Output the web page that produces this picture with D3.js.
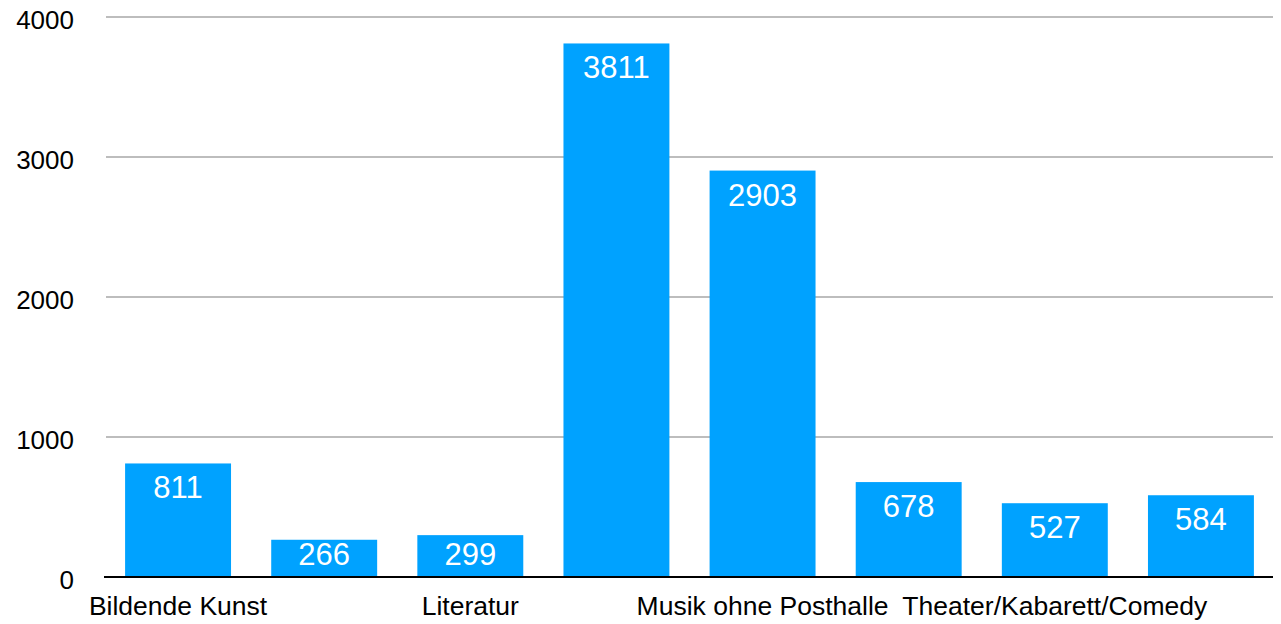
<!DOCTYPE html>
<html lang="de">
<head>
<meta charset="UTF-8">
<title>Kategorien</title>
<script src="https://d3js.org/d3.v7.min.js"></script>
<style>
  body { margin: 0; background: #fff; }
  svg text { font-family: "Liberation Sans", Helvetica, Arial, sans-serif; }
</style>
</head>
<body>
<svg id="chart"></svg>
<script>
// only every other category label is shown in the original chart
const categories = ["Bildende Kunst", "", "Literatur", "", "Musik ohne Posthalle", "", "Theater/Kabarett/Comedy", ""];
const values = [811, 266, 299, 3811, 2903, 678, 527, 584];
const yTicks = [0, 1000, 2000, 3000, 4000];

const width = 1281, height = 624;
const svg = d3.select("#chart").attr("width", width).attr("height", height);

const x = d3.scaleBand()
  .domain(d3.range(values.length))
  .range([105, 1274])
  .paddingInner(0.275)
  .paddingOuter(0.1375);

const y = d3.scaleLinear().domain([0, 4000]).range([577, 17]);

// grid lines
svg.append("g")
  .selectAll("line")
  .data(yTicks.filter(d => d > 0))
  .join("line")
  .attr("x1", 106).attr("x2", 1273)
  .attr("y1", d => y(d)).attr("y2", d => y(d))
  .attr("stroke", "#bdbdbd")
  .attr("stroke-width", 2);

// y tick labels
svg.append("g")
  .selectAll("text")
  .data(yTicks)
  .join("text")
  .attr("x", 74)
  .attr("y", d => y(d) + 12)
  .attr("text-anchor", "end")
  .attr("font-size", 26)
  .attr("fill", "#000")
  .text(d => d);

// bars
svg.append("g")
  .selectAll("rect")
  .data(values)
  .join("rect")
  .attr("x", (d, i) => x(i))
  .attr("y", d => y(d))
  .attr("width", x.bandwidth())
  .attr("height", d => y(0) - y(d))
  .attr("fill", "#00a2ff");

// value labels inside bars (kept above the baseline for short bars)
svg.append("g")
  .selectAll("text")
  .data(values)
  .join("text")
  .attr("x", (d, i) => x(i) + x.bandwidth() / 2)
  .attr("y", d => Math.min(y(d) + 35, y(0) - 12))
  .attr("text-anchor", "middle")
  .attr("font-size", 31)
  .attr("fill", "#fff")
  .text(d => d);

// baseline
svg.append("line")
  .attr("x1", 104).attr("x2", 1273)
  .attr("y1", y(0)).attr("y2", y(0))
  .attr("stroke", "#000")
  .attr("stroke-width", 2);

// category labels
svg.append("g")
  .selectAll("text")
  .data(categories)
  .join("text")
  .attr("x", (d, i) => x(i) + x.bandwidth() / 2)
  .attr("y", 615)
  .attr("text-anchor", "middle")
  .attr("font-size", 26.5)
  .attr("fill", "#000")
  .text(d => d);
</script>
</body>
</html>
